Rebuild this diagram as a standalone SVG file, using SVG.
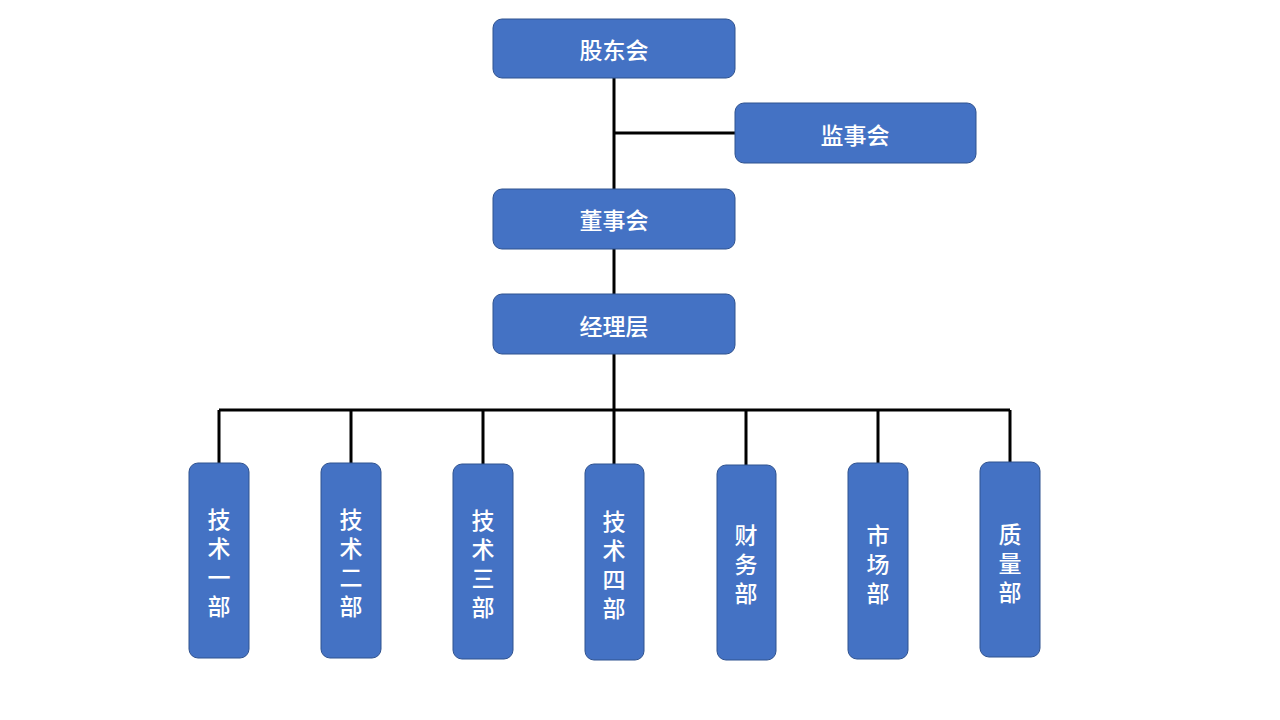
<svg xmlns="http://www.w3.org/2000/svg" width="1280" height="720" viewBox="0 0 1280 720">
<style>
.box{fill:#4472C4;stroke:#2F528F;stroke-width:1}
.t{fill:#fff;font-family:"Noto Sans CJK SC","Noto Sans CJK JP",sans-serif;font-size:23px;font-weight:500;text-anchor:middle;dominant-baseline:central}
.v{writing-mode:vertical-rl;letter-spacing:6px}
.c{stroke:#000;stroke-width:3;fill:none}
</style>
<rect width="1280" height="720" fill="#fff"/>
<g id="connectors">
<path class="c" d="M614 78V189M614 133H736M614 249V294M614 354V464M219 410H1010M219 410V463M351 410V463M483 410V464M746 410V465M878 410V463M1010 410V462"/>
</g>
<g id="n1"><rect class="box" x="493" y="19" width="242" height="59" rx="9"/><text class="t" x="614" y="49">股东会</text></g>
<g id="n2"><rect class="box" x="735" y="103" width="241" height="60" rx="9"/><text class="t" x="855" y="134">监事会</text></g>
<g id="n3"><rect class="box" x="493" y="189" width="242" height="60" rx="9"/><text class="t" x="614" y="219">董事会</text></g>
<g id="n4"><rect class="box" x="493" y="294" width="242" height="60" rx="9"/><text class="t" x="614" y="325">经理层</text></g>
<g id="d1"><rect class="box" x="189" y="463" width="60" height="195" rx="9"/><text class="t v" x="219" y="566">技术一部</text></g>
<g id="d2"><rect class="box" x="321" y="463" width="60" height="195" rx="9"/><text class="t v" x="351" y="566">技术二部</text></g>
<g id="d3"><rect class="box" x="453" y="464" width="60" height="195" rx="9"/><text class="t v" x="483" y="567">技术三部</text></g>
<g id="d4"><rect class="box" x="585" y="464" width="59" height="196" rx="9"/><text class="t v" x="614" y="568">技术四部</text></g>
<g id="d5"><rect class="box" x="717" y="465" width="59" height="195" rx="9"/><text class="t v" x="746" y="567">财务部</text></g>
<g id="d6"><rect class="box" x="848" y="463" width="60" height="196" rx="9"/><text class="t v" x="878" y="567">市场部</text></g>
<g id="d7"><rect class="box" x="980" y="462" width="60" height="195" rx="9"/><text class="t v" x="1010" y="566">质量部</text></g>
</svg>
